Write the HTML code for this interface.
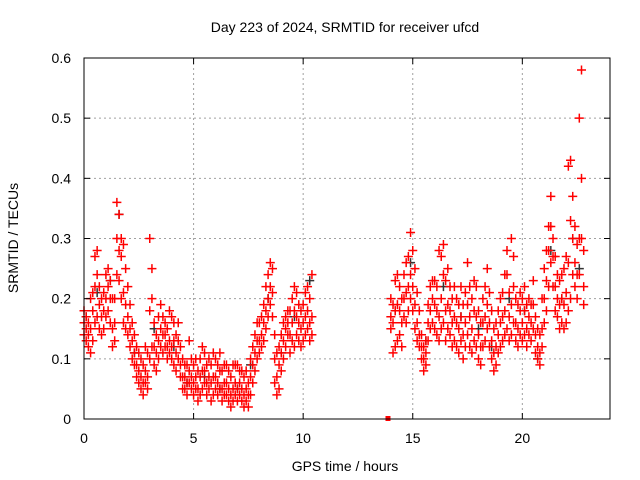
<!DOCTYPE html>
<html><head><meta charset="utf-8"><style>
body{margin:0;background:#fff}
svg{display:block;font-family:"Liberation Sans",sans-serif}
</style></head><body>
<svg id="chart" width="640" height="480">
<rect width="640" height="480" fill="#fff"/>
<g id="grid"></g>
<g id="points"></g>
<rect x="84" y="58" width="526" height="361" fill="none" stroke="#000" stroke-width="1"/>
<g id="ticks"></g>
<text x="345" y="32" font-size="14" text-anchor="middle">Day 223 of 2024, SRMTID for receiver ufcd</text>
<text x="345" y="471" font-size="14" text-anchor="middle">GPS time / hours</text>
<text x="18" y="238" font-size="14" text-anchor="middle" transform="rotate(-90 18 238)">SRMTID / TECUs</text>
</svg>
<script>
const xTicks=[0,5,10,15,20];
const yTicks=[0,0.1,0.2,0.3,0.4,0.5,0.6];
const yTickLabels=["0","0.1","0.2","0.3","0.4","0.5","0.6"];
const seg1Start=0.0, seg2Start=14.0, step=0.1;
const seg1Lo=[.14,.13,.12,.11,.13,.16,.17,.15,.14,.15,.17,.18,.16,.12,.13,.24,.23,.20,.16,.15,.14,.12,.10,.09,.07,.06,.05,.04,.06,.05,.10,.12,.09,.08,.10,.12,.11,.12,.10,.11,.10,.09,.08,.10,.07,.05,.05,.04,.06,.05,.04,.05,.03,.04,.05,.06,.04,.05,.03,.04,.05,.04,.05,.03,.04,.04,.03,.02,.03,.04,.03,.04,.03,.02,.03,.02,.04,.06,.08,.10,.11,.12,.13,.15,.17,.19,.17,.06,.04,.05,.08,.10,.12,.14,.11,.13,.12,.14,.13,.12,.13,.14,.15,.13,.14];
const seg1Mid=[.16,.15,.14,.15,.18,.22,.24,.19,.17,.18,.20,.22,.20,.15,.16,.30,.28,.27,.21,.19,.17,.15,.13,.11,.09,.08,.07,.06,.08,.07,.18,.20,.12,.11,.13,.15,.14,.14,.12,.13,.12,.13,.11,.13,.09,.07,.07,.06,.08,.07,.06,.07,.05,.07,.08,.08,.06,.07,.06,.07,.07,.06,.08,.05,.06,.06,.05,.04,.05,.06,.05,.06,.05,.04,.05,.04,.07,.09,.11,.13,.13,.14,.16,.18,.20,.22,.21,.10,.07,.09,.11,.13,.15,.16,.14,.16,.18,.17,.16,.15,.16,.17,.18,.16,.17];
const seg1Hi=[.18,.17,.16,.20,.21,.27,.28,.22,.20,.21,.24,.25,.23,.20,.20,.36,.34,.30,.29,.25,.22,.19,.16,.14,.12,.11,.10,.09,.12,.11,.30,.25,.16,.14,.17,.19,.17,.16,.15,.18,.17,.16,.14,.16,.12,.10,.09,.09,.13,.10,.09,.10,.08,.10,.12,.11,.09,.10,.09,.11,.10,.09,.11,.08,.09,.09,.08,.07,.09,.09,.09,.08,.08,.07,.08,.06,.10,.12,.14,.16,.16,.17,.19,.22,.24,.26,.25,.14,.11,.12,.14,.16,.17,.18,.18,.20,.22,.21,.19,.18,.19,.21,.22,.20,.24];
const seg2Lo=[.15,.11,.12,.13,.14,.12,.17,.16,.18,.20,.18,.15,.13,.12,.10,.08,.09,.13,.15,.16,.15,.14,.13,.15,.16,.13,.15,.14,.12,.13,.12,.11,.13,.10,.12,.14,.12,.11,.13,.12,.10,.09,.12,.13,.15,.12,.10,.08,.09,.11,.12,.13,.14,.15,.13,.14,.16,.13,.12,.14,.13,.14,.12,.14,.13,.15,.11,.10,.09,.12,.16,.18,.22,.26,.22,.18,.17,.15,.16,.15,.16,.18,.20,.24,.22,.20,.24,.30,.19];
const seg2Mid=[.17,.16,.18,.19,.18,.16,.20,.21,.22,.24,.22,.19,.16,.14,.12,.10,.11,.16,.18,.20,.19,.18,.17,.20,.24,.18,.19,.18,.16,.17,.16,.15,.17,.14,.16,.19,.17,.15,.18,.17,.14,.12,.16,.17,.19,.16,.13,.11,.12,.14,.16,.17,.18,.24,.17,.19,.22,.16,.15,.18,.16,.18,.15,.17,.16,.19,.14,.12,.11,.15,.20,.23,.28,.32,.27,.22,.20,.19,.20,.19,.21,.26,.33,.30,.26,.24,.30,.40,.22];
const seg2Hi=[.20,.19,.23,.24,.22,.20,.24,.26,.27,.31,.28,.25,.21,.18,.14,.12,.13,.19,.22,.23,.23,.22,.28,.27,.29,.23,.25,.22,.20,.22,.20,.19,.22,.19,.21,.26,.22,.20,.23,.22,.18,.16,.20,.22,.25,.21,.18,.15,.16,.18,.20,.21,.24,.28,.21,.30,.27,.20,.19,.21,.20,.22,.19,.20,.19,.23,.17,.15,.14,.20,.25,.28,.32,.37,.30,.27,.24,.23,.24,.25,.27,.42,.43,.37,.32,.29,.50,.58,.28];
const blackHours=[0.1,0.6,1.2,1.6,2.3,3.2,4.1,4.7,5.5,6.2,7.0,7.6,8.4,9.0,9.6,10.3,14.2,14.9,15.6,16.4,17.2,18.0,18.6,19.4,20.1,20.7,21.3,21.8,22.3,22.6];
const blackVals=[.17,.21,.23,.34,.11,.15,.12,.06,.07,.05,.05,.09,.20,.11,.17,.23,.18,.26,.13,.22,.17,.15,.12,.20,.18,.10,.28,.20,.30,.25];
const zeroHours=[13.87], zeroVals=[0];

const X0=84,X1=610,Y0=419,Y1=58;
const xs=h=>X0+h*(X1-X0)/24;
const ys=v=>Y0-v*(Y0-Y1)/0.6;
const NS="http://www.w3.org/2000/svg";
const grid=document.getElementById('grid'),ticks=document.getElementById('ticks'),pts=document.getElementById('points');
function mk(tag,attrs,parent){const e=document.createElementNS(NS,tag);for(const k in attrs)e.setAttribute(k,attrs[k]);parent.appendChild(e);return e;}
xTicks.forEach(t=>{const x=xs(t);
 if(t>0){const g=mk('line',{x1:x,x2:x,y1:Y1,y2:Y0,stroke:'#a0a0a0','stroke-dasharray':'2,3'},grid);
 
 }
 const a=mk('line',{x1:x,x2:x,y1:Y0,y2:Y0-6,stroke:'#000'},ticks);
 
 
 const b=mk('line',{x1:x,x2:x,y1:Y1,y2:Y1+6,stroke:'#000'},ticks);
 
 
 const l=mk('text',{x:x,y:443,'font-size':14,'text-anchor':'middle'},ticks);l.textContent=String(t);
 
 });
yTicks.forEach((t,i)=>{const y=ys(t);
 if(t>0&&t<0.6){const g=mk('line',{x1:X0,x2:X1,y1:y,y2:y,stroke:'#a0a0a0','stroke-dasharray':'2,3'},grid);
 
 }
 const a=mk('line',{x1:X0,x2:X0+6,y1:y,y2:y,stroke:'#000'},ticks);
 
 
 const b=mk('line',{x1:X1,x2:X1-6,y1:y,y2:y,stroke:'#000'},ticks);
 
 
 const l=mk('text',{x:71,y:y+5,'font-size':14,'text-anchor':'end'},ticks);l.textContent=yTickLabels[i];
 
 });
function cross(h,v,color,name){const x=xs(h),y=ys(v);
 const p=mk('path',{d:`M${x-4.5},${y}h9M${x},${y-4.5}v9`,stroke:color,'stroke-width':1.5,fill:'none'},pts);
 
 }
blackHours.forEach((h,i)=>cross(h,blackVals[i],'#333','black-point'));
[[seg1Start,seg1Lo],[seg1Start,seg1Mid],[seg1Start,seg1Hi],[seg2Start,seg2Lo],[seg2Start,seg2Mid],[seg2Start,seg2Hi]].forEach(([s,arr])=>{
 arr.forEach((v,i)=>cross(s+i*step,v,'#f00','red-point'));});
zeroHours.forEach((h,i)=>{const r=mk('rect',{x:xs(h)-2.5,y:ys(zeroVals[i])-3,width:5,height:5,fill:'#f00'},pts);
 
 });
</script>
</body></html>
